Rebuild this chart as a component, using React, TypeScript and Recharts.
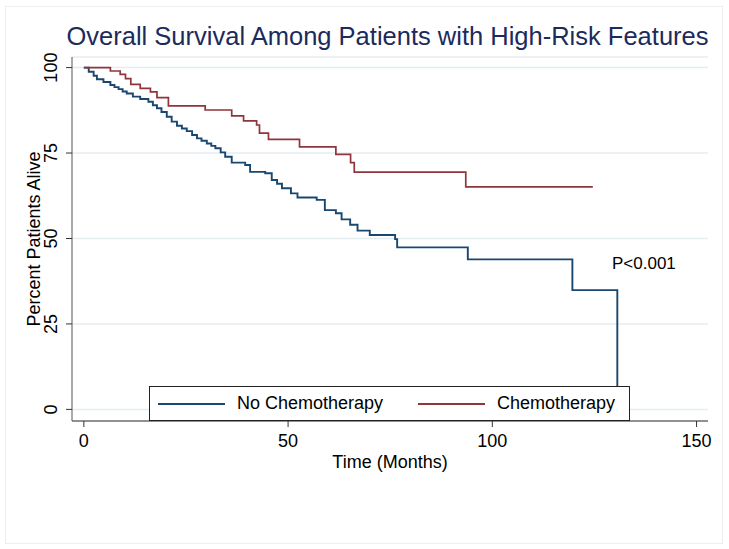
import React from "react";
import { LineChart, Line, XAxis, YAxis, CartesianGrid } from "recharts";

// Kaplan-Meier estimates (months, % alive)
const noChemoTime = [
  0, 1.2, 2.4, 3.2, 4.8, 6.5, 7.5, 8.5, 9.5, 10.5, 12, 13.8, 15.8, 16.9, 17.9,
  19, 20.3, 21.5, 22.8, 24, 25.2, 26.5, 27.7, 28.8, 30.1, 31.2, 32.2, 33.5,
  34.6, 36.2, 39.5, 40.7, 44.4, 46, 47.3, 48.5, 50.7, 52.3, 57, 59, 61.7, 63.1,
  65.2, 67, 70, 76.2, 76.7, 94, 119.6, 130.6,
];
const noChemoSurv = [
  100, 98.8, 97.6, 96.6, 95.8, 94.9, 94.3, 93.7, 93.0, 92.4, 91.5, 90.8, 90.0,
  89.0, 88.1, 87.0, 85.6, 84.2, 83.0, 82.2, 81.4, 80.3, 79.3, 78.6, 77.8, 77.1,
  76.4, 75.2, 73.9, 72.2, 71.5, 69.5, 69.1, 67.1, 66.0, 64.7, 63.2, 62.0, 61.3,
  58.3, 57.4, 55.6, 54.0, 52.3, 51.0, 49.8, 47.4, 43.9, 34.9, 0,
];
const chemoTime = [
  0, 6.5, 8.9, 10.2, 11.5, 13.8, 16.3, 17.9, 20.7, 29.7, 36.2, 39.1, 42.3, 43,
  45.2, 52.8, 61.7, 65.3, 66.2, 93.5, 124.6,
];
const chemoSurv = [
  100, 99.0, 98.0, 96.8, 95.1, 93.9, 92.9, 91.2, 88.8, 87.6, 85.9, 84.4, 83.2,
  80.8, 79.0, 76.8, 74.6, 72.2, 69.4, 65.1, 65.1,
];

const xTicks = [0, 50, 100, 150];
const yTicks = [0, 25, 50, 75, 100];

const seriesNames = ["No Chemotherapy", "Chemotherapy"];
const seriesColors = ["#1a476f", "#90353b"];

const noChemo = noChemoTime.map((t, i) => ({ t, s: noChemoSurv[i] }));
const chemo = chemoTime.map((t, i) => ({ t, s: chemoSurv[i] }));

const font = '"Liberation Sans", Arial, Helvetica, sans-serif';

const YTick = ({ x, y, payload }: any) => (
  <text
    x={x}
    y={y}
    transform={`rotate(-90 ${x} ${y})`}
    textAnchor="middle"
    fontSize={18}
    fontFamily={font}
    fill="#000"
  >
    {payload.value}
  </text>
);

const App: React.FC = () => {
  return (
    <div
      style={{
        position: "absolute",
        left: 0,
        top: 0,
        width: 729,
        height: 549,
        background: "#fff",
        fontFamily: font,
      }}
    >
      <div
        style={{
          position: "absolute",
          left: 5,
          top: 6,
          width: 716,
          height: 536,
          border: "1px solid #eeeeee",
        }}
      />
      <div
        style={{
          position: "absolute",
          left: 0,
          width: 729,
          top: 22,
          textAlign: "center",
          paddingLeft: 46,
          boxSizing: "border-box",
          fontSize: 25.5,
          color: "#1c2a5c",
          whiteSpace: "nowrap",
        }}
      >
        Overall Survival Among Patients with High-Risk Features
      </div>

      <LineChart
        width={729}
        height={549}
        margin={{ top: 57, right: 21, left: 32, bottom: 88 }}
        style={{ position: "absolute", left: 0, top: 0 }}
      >
        <CartesianGrid vertical={false} stroke="#e4edf0" strokeWidth={1.5} />
        <XAxis
          type="number"
          dataKey="t"
          domain={[-2.9, 152.8]}
          ticks={xTicks}
          allowDataOverflow
          height={40}
          tickSize={6}
          tickMargin={7}
          axisLine={{ stroke: "#333" }}
          tickLine={{ stroke: "#333" }}
          tick={{ fontSize: 18, fill: "#000", fontFamily: font }}
        />
        <YAxis
          type="number"
          dataKey="s"
          domain={[-3.4, 103.1]}
          ticks={yTicks}
          allowDataOverflow
          width={40}
          tickSize={6}
          tickMargin={9}
          axisLine={{ stroke: "#555" }}
          tickLine={{ stroke: "#333" }}
          tick={<YTick />}
        />
        <Line
          data={noChemo}
          dataKey="s"
          name={seriesNames[0]}
          type="stepAfter"
          stroke={seriesColors[0]}
          strokeWidth={1.9}
          dot={false}
          isAnimationActive={false}
        />
        <Line
          data={chemo}
          dataKey="s"
          name={seriesNames[1]}
          type="stepAfter"
          stroke={seriesColors[1]}
          strokeWidth={1.7}
          dot={false}
          isAnimationActive={false}
        />
      </LineChart>

      <div
        style={{
          position: "absolute",
          left: 34,
          top: 239,
          transform: "translate(-50%, -50%) rotate(-90deg)",
          fontSize: 18,
          whiteSpace: "nowrap",
          color: "#000",
        }}
      >
        Percent Patients Alive
      </div>
      <div
        style={{
          position: "absolute",
          left: 390,
          top: 462,
          transform: "translate(-50%, -50%)",
          fontSize: 18,
          whiteSpace: "nowrap",
          color: "#000",
        }}
      >
        Time (Months)
      </div>
      <div
        style={{
          position: "absolute",
          left: 612,
          top: 264,
          transform: "translateY(-50%)",
          fontSize: 17,
          whiteSpace: "nowrap",
          color: "#000",
        }}
      >
        P&lt;0.001
      </div>

      {/* legend box, overlapping the bottom of the plot like the original */}
      <div
        style={{
          position: "absolute",
          left: 149,
          top: 386,
          width: 481,
          height: 35,
          border: "1px solid #222",
          boxSizing: "border-box",
          background: "#fff",
        }}
      >
        {seriesNames.map((name, i) => (
          <div
            key={name}
            style={{
              position: "absolute",
              left: i === 0 ? 8 : 268,
              top: 0,
              height: 33,
              display: "flex",
              alignItems: "center",
              fontSize: 18,
              whiteSpace: "nowrap",
            }}
          >
            <span
              style={{
                display: "inline-block",
                width: 67,
                height: 0,
                borderTop: `2px solid ${seriesColors[i]}`,
                marginRight: 12,
              }}
            />
            {name}
          </div>
        ))}
      </div>
    </div>
  );
};

export default App;
